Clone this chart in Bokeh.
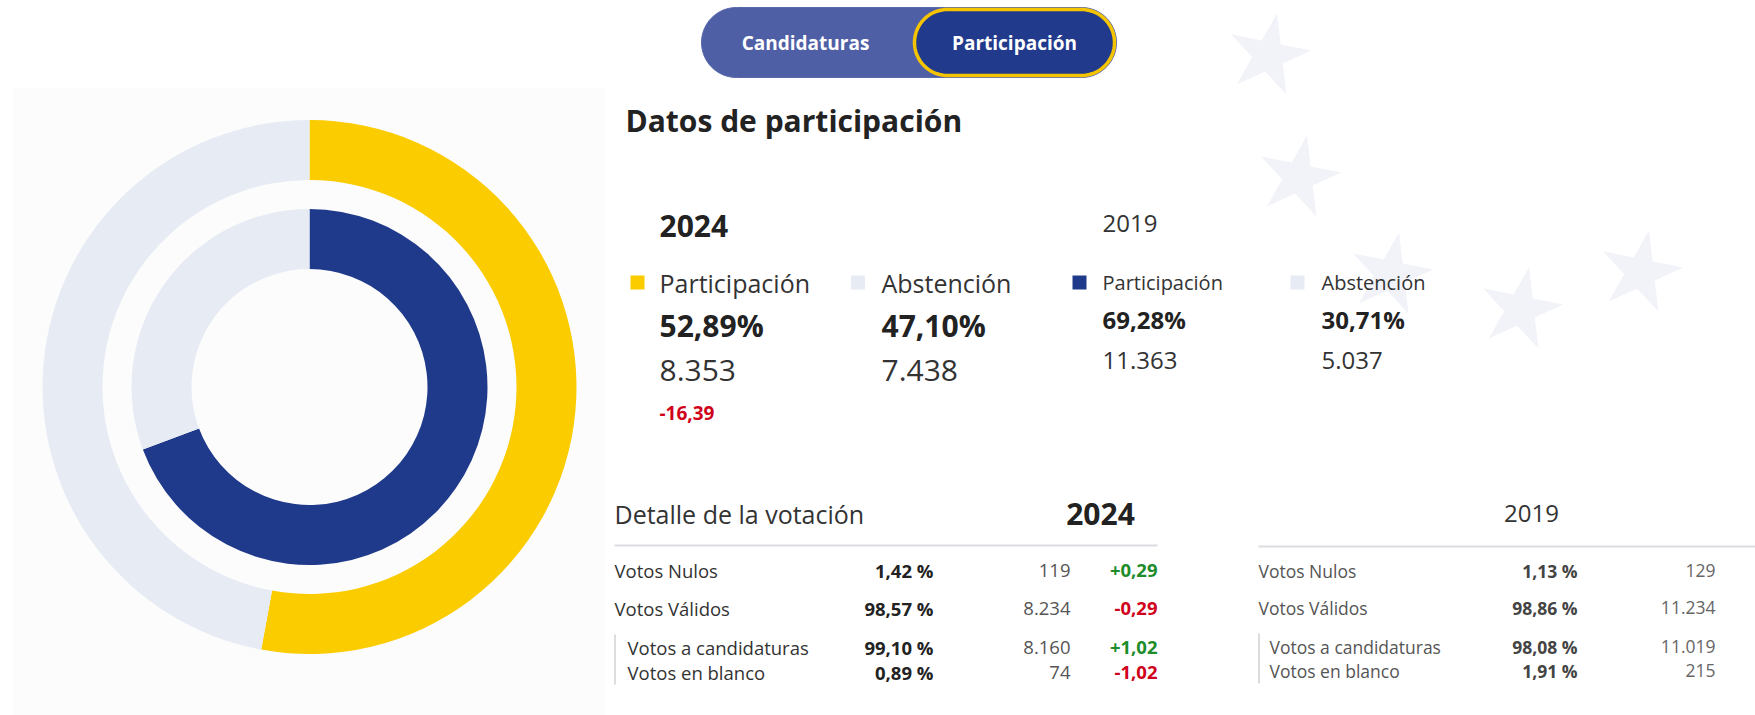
import numpy as np
from bokeh.plotting import figure
from bokeh.models import ColumnDataSource, Range1d
from bokeh.core.properties import value
from bokeh.embed import file_html
from bokeh.resources import INLINE

# ---------------- data ----------------
tabs = ["Candidaturas", "Participación"]
title = "Datos de participación"
years = ["2024", "2019"]
legend_labels = ["Participación", "Abstención"]
part_pct = [52.89, 69.28]          # 2024, 2019
abst_pct = [47.10, 30.71]
part_votes = ["8.353", "11.363"]
abst_votes = ["7.438", "5.037"]
part_change = [-16.39]

detail_title = "Detalle de la votación"
detail_labels = ["Votos Nulos", "Votos Válidos", "Votos a candidaturas", "Votos en blanco"]
detail_pct_2024 = [1.42, 98.57, 99.10, 0.89]
detail_votes_2024 = ["119", "8.234", "8.160", "74"]
detail_diff_2024 = [0.29, -0.29, 1.02, -1.02]
detail_pct_2019 = [1.13, 98.86, 98.08, 1.91]
detail_votes_2019 = ["129", "11.234", "11.019", "215"]

# ---------------- style ----------------
YELLOW = "#FBCC00"
NAVY = "#203A8B"
LIGHT = "#E6EBF4"
DARK = "#222222"
TXT = "#333333"
GREY = "#555555"
RED = "#D0021B"
GREEN = "#1E8C2A"
FONT = value("Open Sans")

W, H = 1755, 715


def X(x):
    return x


def Y(y):
    return H - y


def fmt(v, sign=False, pct=False):
    s = f"{v:+.2f}" if sign else f"{v:.2f}"
    s = s.replace(".", ",")
    return s + (" %" if pct else "")


p = figure(width=W, height=H, x_range=Range1d(0, W), y_range=Range1d(0, H),
           output_backend="svg", toolbar_location=None,
           x_axis_location=None, y_axis_location=None, min_border=0)
p.grid.visible = False
p.outline_line_color = None
p.background_fill_color = "white"
p.border_fill_color = "white"

# background panel behind donut
p.quad(left=[X(13)], right=[X(604)], top=[Y(87)], bottom=[Y(715)],
       fill_color="#FCFCFC", line_color=None)

# decorative stars
star_x = [1268, 1298, 1390, 1520, 1640]
star_y = [55, 177, 274, 309, 272]
p.scatter([X(v) for v in star_x], [Y(v) for v in star_y], marker="star", size=86,
          fill_color="#F1F3F8", line_color=None, angle=-0.2)


# ---------------- toggle ----------------
def pill(x0, x1, yc, h, n=40):
    r = h / 2
    th_r = np.linspace(-np.pi / 2, np.pi / 2, n)
    th_l = np.linspace(np.pi / 2, 3 * np.pi / 2, n)
    xs = list(X(x1) - r + r * np.cos(th_r)) + list(X(x0) + r + r * np.cos(th_l))
    ys = list(Y(yc) + r * np.sin(th_r)) + list(Y(yc) + r * np.sin(th_l))
    return xs, ys


xs, ys = pill(701, 1116, 42, 70)
p.patch(xs, ys, fill_color="#4F5FA5", line_color="#5A69AC", line_width=1)
xs, ys = pill(914, 1114, 42, 66)
p.patch(xs, ys, fill_color="#213A8C", line_color="#F5C400", line_width=3.5)
p.text(x=[X(805), X(1014)], y=[Y(42), Y(42)], text=tabs, text_font=FONT,
       text_font_size=value("19px"), text_font_style="bold", text_color="white",
       text_align="center", text_baseline="middle")

# ---------------- donut ----------------
cx, cy = X(309), Y(386.5)
rings = [(207, 267, part_pct[0], abst_pct[0], YELLOW),
         (118, 178, part_pct[1], abst_pct[1], NAVY)]
for r0, r1, pv, av, col in rings:
    vals = [pv, av]
    cols = [col, LIGHT]
    tot = sum(vals)
    cum = np.cumsum([0] + vals) / tot
    starts = [np.deg2rad(90 - 360 * c) for c in cum[:-1]]
    ends = [np.deg2rad(90 - 360 * c) for c in cum[1:]]
    src = ColumnDataSource(dict(s=starts, e=ends, c=cols))
    p.annular_wedge(x=cx, y=cy, inner_radius=r0, outer_radius=r1,
                    start_angle="s", end_angle="e",
                    direction="clock", fill_color="c", line_color=None, source=src)


# ---------------- helper for text ----------------
def txt(xv, yv, t, size, bold=False, color=TXT, align="left"):
    p.text(x=[X(v) for v in xv], y=[Y(v) for v in yv], text=t, text_font=FONT,
           text_font_size=value(size), text_font_style="bold" if bold else "normal",
           text_color=color, text_align=align, text_baseline="middle")


txt([625], [120], [title], "30px", bold=True, color=DARK)

# 2024 block
txt([659], [225], [years[0]], "30px", bold=True, color=DARK)
p.rect([X(637), X(857.5)], [Y(282), Y(282)], width=14, height=14,
       fill_color=[YELLOW, LIGHT], line_color=None)
txt([659, 881], [282, 282], legend_labels, "25px", color=TXT)
txt([659, 881], [325, 325], [f"{part_pct[0]:.2f}%".replace(".", ","),
                             f"{abst_pct[0]:.2f}%".replace(".", ",")], "30px", bold=True, color=DARK)
txt([659, 881], [370, 370], [part_votes[0], abst_votes[0]], "30px", color=TXT)
txt([659], [412], [fmt(part_change[0])], "19px", bold=True, color=RED)

# 2019 block
txt([1102], [223], [years[1]], "24px", color=TXT)
p.rect([X(1079), X(1297)], [Y(282), Y(282)], width=14, height=14,
       fill_color=[NAVY, LIGHT], line_color=None)
txt([1102, 1321], [282, 282], legend_labels, "20px", color=TXT)
txt([1102, 1321], [319, 319], [f"{part_pct[1]:.2f}%".replace(".", ","),
                               f"{abst_pct[1]:.2f}%".replace(".", ",")], "24px", bold=True, color=DARK)
txt([1102, 1321], [360, 360], [part_votes[1], abst_votes[1]], "24px", color=TXT)

# ---------------- detail table 2024 ----------------
row_y = [570, 608, 647, 672]
lab_x = [614, 614, 627, 627]
txt([614], [513], [detail_title], "25px", color=TXT)
txt([1100], [513], [years[0]], "30px", bold=True, color=DARK, align="center")
p.line([X(614), X(1157)], [Y(545), Y(545)], line_color="#DCDDE2", line_width=2)
p.line([X(614.5), X(614.5)], [Y(634), Y(684)], line_color="#BBBBBB", line_width=1)
txt(lab_x, row_y, detail_labels, "18.5px", color=TXT)
txt([933] * 4, row_y, [fmt(v, pct=True) for v in detail_pct_2024], "18.5px", bold=True,
    color=DARK, align="right")
txt([1070] * 4, row_y, detail_votes_2024, "18.5px", color=GREY, align="right")
for i, d in enumerate(detail_diff_2024):
    txt([1157], [row_y[i]], [fmt(d, sign=True)], "18.5px", bold=True,
        color=GREEN if d > 0 else RED, align="right")

# ---------------- detail table 2019 ----------------
row_y2 = [570, 607, 646, 670]
lab_x2 = [1258, 1258, 1269, 1269]
txt([1531], [513], [years[1]], "24px", color=TXT, align="center")
p.line([X(1258), X(1755)], [Y(546), Y(546)], line_color="#DCDDE2", line_width=2)
p.line([X(1258.5), X(1258.5)], [Y(633), Y(683)], line_color="#BBBBBB", line_width=1)
txt(lab_x2, row_y2, detail_labels, "17.5px", color="#555555")
txt([1577] * 4, row_y2, [fmt(v, pct=True) for v in detail_pct_2019], "17.5px", bold=True,
    color="#444444", align="right")
txt([1715] * 4, row_y2, detail_votes_2019, "17.5px", color="#666666", align="right")

open("out.html", "w").write(file_html(p, INLINE))
